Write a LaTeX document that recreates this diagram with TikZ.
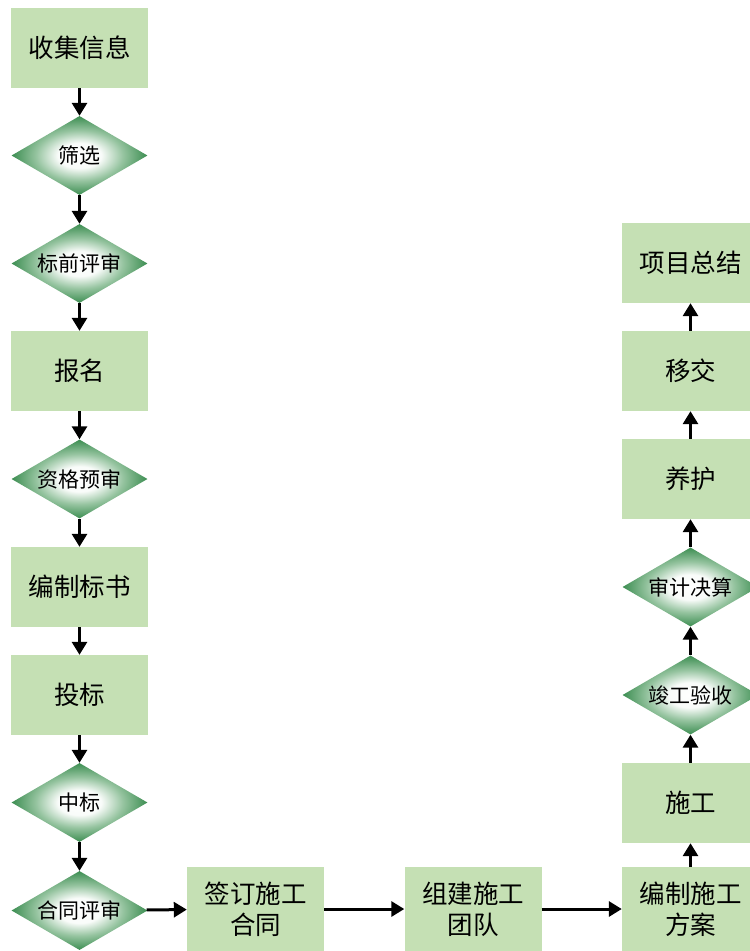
\documentclass[tikz,border=0pt]{standalone}
\usepackage{fontspec}
\setmainfont{Noto Sans CJK SC}
\usepackage{tikz}
\usetikzlibrary{shapes.geometric, arrows.meta}
\definecolor{boxgreen}{RGB}{197,224,180}
\definecolor{darkgreen}{RGB}{38,128,62}
\definecolor{midgreen}{RGB}{150,196,160}
\pgfdeclareradialshading{greenglow}{\pgfpoint{0bp}{0bp}}{color(0bp)=(white); color(8bp)=(white!94!midgreen); color(16bp)=(midgreen); color(25bp)=(darkgreen!80!midgreen); color(34bp)=(darkgreen); color(50bp)=(darkgreen)}
\tikzstyle{stepbox} = [rectangle, fill=boxgreen, minimum width=137pt, minimum height=80pt, inner sep=0pt, align=center, font=\fontsize{25.5}{31}\selectfont]
\tikzstyle{check} = [diamond, aspect=1.72, shading=greenglow, minimum width=136pt, minimum height=79pt, inner sep=0pt, font=\fontsize{21}{24}\selectfont]
\tikzstyle{arrow} = [line width=3pt,-{Triangle[length=13pt,width=15pt]}]

\begin{document}
\begin{tikzpicture}[x=1pt, y=-1pt]
        \useasboundingbox (0,0) rectangle (750,951);
        \node[stepbox] (A) at (79.5,48) {收集信息};
        \node[check] (B) at (79.5,155.5) {筛选};
        \node[check] (C) at (79.5,263.5) {标前评审};
        \node[stepbox] (D) at (79.5,371) {报名};
        \node[check] (E) at (79.5,479) {资格预审};
        \node[stepbox] (F) at (79.5,587) {编制标书};
        \node[stepbox] (G) at (79.5,695) {投标};
        \node[check] (H) at (79.5,802.5) {中标};
        \node[check] (I) at (79.5,910.5) {合同评审};
        \node[stepbox, minimum height=84pt] (J) at (255.5,909) {签订施工\\合同};
        \node[stepbox, minimum height=84pt] (K) at (473,909) {组建施工\\团队};
        \node[stepbox, minimum height=84pt] (L) at (690.5,909) {编制施工\\方案};
        \node[stepbox] (M) at (690.5,803) {施工};
        \node[check] (N) at (690.5,695) {竣工验收};
        \node[check] (O) at (690.5,587) {审计决算};
        \node[stepbox] (P) at (690.5,479) {养护};
        \node[stepbox] (Q) at (690.5,371) {移交};
        \node[stepbox] (R) at (690.5,263) {项目总结};

        % Edges - left column
        \draw[arrow] (A) -- (B);
        \draw[arrow] (B) -- (C);
        \draw[arrow] (C) -- (D);
        \draw[arrow] (D) -- (E);
        \draw[arrow] (E) -- (F);
        \draw[arrow] (F) -- (G);
        \draw[arrow] (G) -- (H);
        \draw[arrow] (H) -- (I);

        % Edges - bottom row
        \draw[arrow] (I) -- (J);
        \draw[arrow] (J) -- (K);
        \draw[arrow] (K) -- (L);

        % Edges - right column
        \draw[arrow] (L) -- (M);
        \draw[arrow] (M) -- (N);
        \draw[arrow] (N) -- (O);
        \draw[arrow] (O) -- (P);
        \draw[arrow] (P) -- (Q);
        \draw[arrow] (Q) -- (R);
      \end{tikzpicture}
\end{document}
